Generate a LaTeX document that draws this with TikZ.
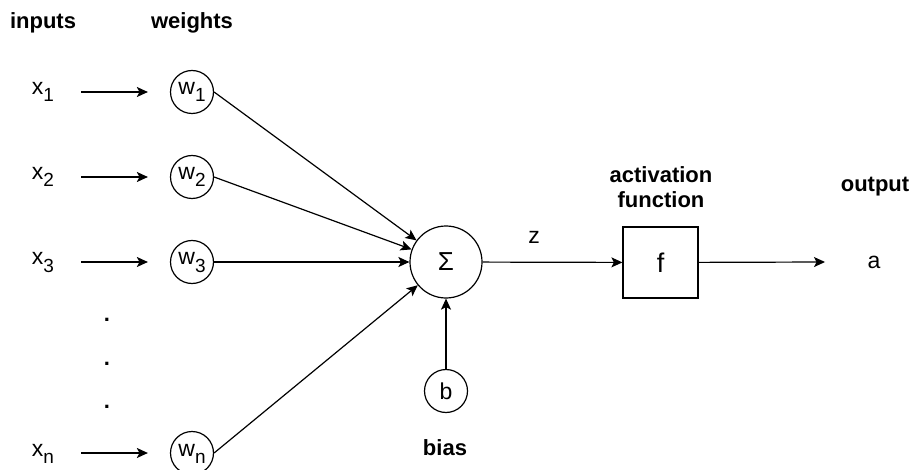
\documentclass[tikz,border=0pt]{standalone}
\usepackage{fontspec}
\setmainfont{Liberation Sans}
\usetikzlibrary{arrows.meta}
% lowered, smaller index for the variable names
\newcommand\lowidx[1]{\raisebox{-7pt}{\fontsize{19}{21}\selectfont #1}}
\begin{document}
\begin{tikzpicture}[x=1pt,y=-1pt,
  every node/.style={font=\fontsize{23}{27}\selectfont, inner sep=0pt},
  stroke/.style={line width=1.2pt},
  conn/.style={stroke, -{Stealth[length=11pt,width=10pt,inset=2.5pt]}},
  idxlabel/.style={text height=6pt, text depth=0pt},
  neuron/.style={draw, circle, stroke, minimum size=43pt},
  heading/.style={font=\fontsize{22}{25}\selectfont\bfseries, align=center},
  dotmark/.style={font=\fontsize{22}{26}\selectfont\bfseries},
]
\useasboundingbox (0,0) rectangle (912,470);

% column headings
\node[heading, anchor=base] (hin) at (43,29) {inputs};
\node[heading, anchor=base] (hw) at (192,29) {weights};
\node[heading] (hact) at (661,187) {activation\\function};
\node[heading] (hout) at (875,187) {output};
\node[heading] (hbias) at (445,448) {bias};

% inputs
\node[idxlabel] (x1) at (43,92) {x\lowidx{1}};
\node[idxlabel] (x2) at (43,177) {x\lowidx{2}};
\node[idxlabel] (x3) at (43,262) {x\lowidx{3}};
\node[idxlabel] (xn) at (43,453) {x\lowidx{n}};

% weights
\node[neuron, idxlabel] (w1) at (192,92) {w\lowidx{1}};
\node[neuron, idxlabel] (w2) at (192,177) {w\lowidx{2}};
\node[neuron, idxlabel] (w3) at (192,262) {w\lowidx{3}};
\node[neuron, idxlabel] (wn) at (192,453) {w\lowidx{n}};

% vertical ellipsis
\node[dotmark] (d1) at (107,320) {.};
\node[dotmark] (d2) at (107,364) {.};
\node[dotmark] (d3) at (107,407) {.};

% summation, bias, activation
\node[draw, circle, stroke, minimum size=72pt, font=\fontsize{26}{30}\selectfont] (sigma) at (446,262) {Σ};
\node[neuron] (b) at (446,391) {b};
\node[draw, stroke, minimum width=75pt, minimum height=71pt, font=\fontsize{27}{30}\selectfont] (f) at (660.5,262.5) {f};
\node (z) at (534,237) {z};
\node (a) at (874,262) {a};
\coordinate (aend) at (825,262);

% input arrows
\foreach \i in {1,2,3,n}
  \draw[conn, shorten <=27pt, shorten >=22pt] (x\i.east) -- (w\i.west);

% weighted inputs into the sum
\foreach \i in {1,2,3,n}
  \draw[conn] (w\i.east) -- (sigma);

\draw[conn] (b) -- (sigma);
\draw[conn] (sigma) -- (f);
\draw[conn] (f) -- (aend);
\end{tikzpicture}
\end{document}
